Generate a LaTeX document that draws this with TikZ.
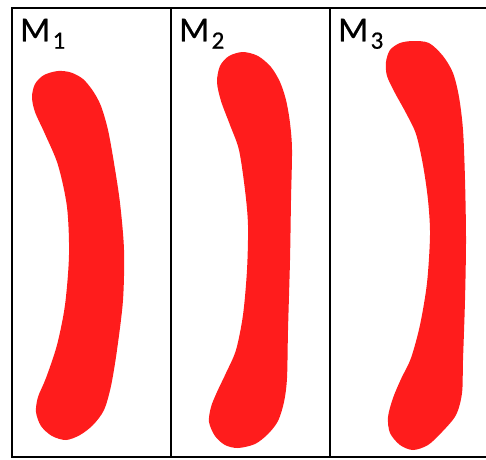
\documentclass[tikz,border=0pt]{standalone}
\usepackage{fontspec}
\setmainfont{Carlito}
\newfontfamily\lblfont[FakeBold=0.6]{Carlito}
\definecolor{blobred}{RGB}{255,28,28}
\tikzset{
  frameline/.style={line width=2pt, black},
  blob/.style={fill=blobred, draw=none},
  lbl/.style={anchor=base west, inner sep=0pt, font=\lblfont\fontsize{35}{35}\selectfont}
}
\newcommand{\msub}[1]{M\kern2.5pt\raisebox{-7.4pt}{\fontsize{25}{25}\selectfont #1}}
\begin{document}
\begin{tikzpicture}[x=1pt,y=-1pt]
\useasboundingbox (0,0) rectangle (486,459);
% frame
\coordinate (tl) at (12,8);
\coordinate (tr) at (486,8);
\coordinate (bl) at (12,457);
\coordinate (br) at (486,457);
\coordinate (d1t) at (171,8);
\coordinate (d1b) at (171,457);
\coordinate (d2t) at (330,8);
\coordinate (d2b) at (330,457);
\draw[frameline] (tr) -- (tl) -- (bl) -- (br);
\draw[frameline] (d1t) -- (d1b);
\draw[frameline] (d2t) -- (d2b);
% labels
\node[lbl] (m1) at (20,41.3) {\msub{1}};
\node[lbl] (m2) at (179,41.3) {\msub{2}};
\node[lbl] (m3) at (338,41.3) {\msub{3}};
% shape 1
\fill[blob] plot[smooth cycle, tension=0.5] coordinates {
 (58,71) (71,72.5) (83,79) (93,91) (101,106) (108,130) (114,163) (120,203)
 (124,250) (123,300) (117,350) (111,386) (104,410) (93,425) (80,435)
 (66,440) (52,436) (41,426) (36,412) (38,397) (46,378) (57,345) (65,305)
 (69,255) (67,207) (58,165) (45,134) (35,112) (32,97) (35,84) (44,75)};
% shape 2
\fill[blob] plot[smooth cycle, tension=0.5] coordinates {
 (243,52) (258,56) (271,67) (280,82) (286,100) (290,123) (292,150)
 (291,200) (290,260) (288,330) (287,378) (284,402) (278,421) (268,434)
 (255,444) (238,448) (225,445) (215,436) (209,422) (211,407) (217,392)
 (226,373) (236,350) (243,315) (247,270) (248,225) (245,190) (239,150)
 (230,125) (221,101) (217,82) (220,66) (229,56)};
% shape 3
\fill[blob] plot[smooth cycle, tension=0.5] coordinates {
 (413,41) (429,43) (443,56) (453,73) (459,97) (463,130) (465,180)
 (466,240) (465,300) (463,360) (462,393) (456,415) (442,432) (428,445)
 (413,450) (400,445) (390,433) (388,417) (393,398) (401,379) (411,358)
 (420,325) (427,283) (430,235) (428,200) (423,165) (416,134) (406,113)
 (395,93) (387,76) (386,62) (390,50) (400,43)};
\end{tikzpicture}
\end{document}
